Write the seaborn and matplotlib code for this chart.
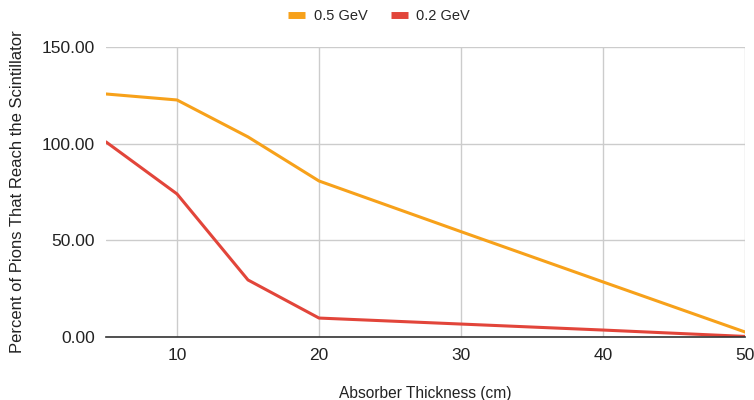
import matplotlib
matplotlib.use("Agg")
import matplotlib.pyplot as plt
import seaborn as sns
import pandas as pd
from matplotlib.ticker import FormatStrFormatter
from matplotlib.lines import Line2D

thickness_05 = [5, 10, 15, 20, 30, 40, 50]
pct_05 = [125.7, 122.6, 103.5, 80.7, 54.5, 28.5, 2.6]
thickness_02 = [5, 10, 15, 20, 30, 40, 50]
pct_02 = [100.9, 74.0, 29.5, 9.8, 6.7, 3.6, 0.3]
series_names = ["0.5 GeV", "0.2 GeV"]
colors = ["#f7a11a", "#e2453a"]

df = pd.concat([
    pd.DataFrame({"x": thickness_05, "y": pct_05, "s": series_names[0]}),
    pd.DataFrame({"x": thickness_02, "y": pct_02, "s": series_names[1]}),
])

sns.set_style("white")
plt.rcParams["font.family"] = ["Liberation Sans", "DejaVu Sans"]

fig = plt.figure(figsize=(7.54, 4.0), dpi=100)
ax = fig.add_axes([0.1406, 0.1575, 0.988 - 0.1406, 0.8825 - 0.1575])

sns.lineplot(data=df, x="x", y="y", hue="s", palette=dict(zip(series_names, colors)),
             linewidth=2.2, ax=ax, legend=False, sort=False)

ax.set_xlim(5, 50)
ax.set_ylim(0, 150)
ax.set_xticks([10, 20, 30, 40, 50])
ax.set_yticks([0, 50, 100, 150])
ax.yaxis.set_major_formatter(FormatStrFormatter("%.2f"))
ax.grid(True, color="#cccccc", linewidth=1)
ax.set_axisbelow(True)
for s in ["top", "right", "left"]:
    ax.spines[s].set_visible(False)
ax.spines["bottom"].set_color("#333333")
ax.spines["bottom"].set_linewidth(1.2)
ax.tick_params(axis="both", length=0, labelsize=12.5, colors="#222222", pad=8)
ax.set_xlabel("Absorber Thickness (cm)", fontsize=11.2, color="#222222")
ax.set_ylabel("Percent of Pions That Reach the Scintillator", fontsize=12, color="#222222")
ax.xaxis.set_label_coords(0.5, -0.168)
ax.yaxis.set_label_coords(-0.127, 0.5)

handles = [Line2D([0], [0], color=c, linewidth=5, solid_capstyle="butt") for c in colors]
fig.legend(handles, series_names, loc="upper center", bbox_to_anchor=(0.503, 1.01), ncol=2,
           frameon=False, fontsize=10.5, handlelength=1.15, columnspacing=1.6, handletextpad=0.6)

fig.savefig("out.png", dpi=100)
